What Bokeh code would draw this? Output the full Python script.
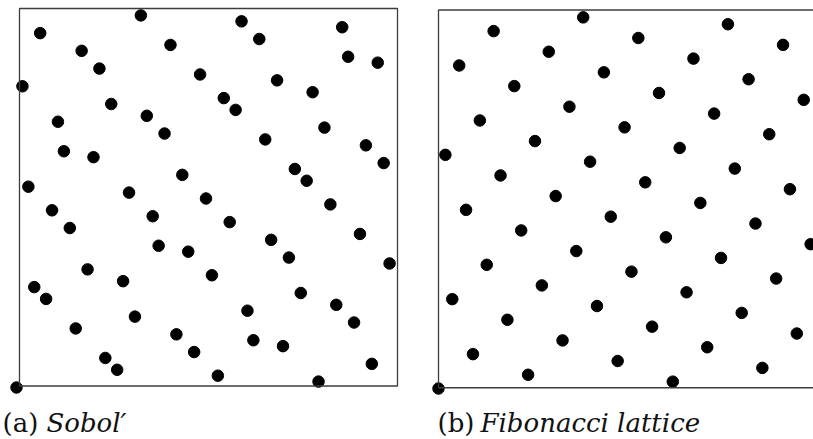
from bokeh.plotting import figure
from bokeh.layouts import row
from bokeh.models import Range1d, BoxAnnotation, Label
from bokeh.embed import file_html
from bokeh.resources import INLINE

# Sobol' points (first 64), coordinates in units of 1/64
sobol_x = [21, 4, 26, 11, 14, 31, 1, 16, 22, 7, 25, 8, 13, 28, 2, 19, 32, 38, 55, 41, 56, 61,
           44, 50, 35, 37, 52, 42, 59, 62, 47, 49, 53, 6, 23, 9, 24, 29, 12, 33, 3, 18, 5, 20,
           10, 27, 30, 15, 17, 0, 36, 58, 43, 46, 63, 48, 39, 54, 57, 40, 45, 60, 34, 51]
sobol_y = [63, 60, 58, 57, 54, 53, 51, 48, 46, 45, 43, 40, 39, 36, 34, 33, 32, 62, 61, 59, 56, 55,
           52, 50, 49, 47, 44, 42, 41, 38, 37, 35, 31, 30, 29, 27, 24, 23, 20, 19, 17, 18, 15, 12,
           10, 9, 6, 5, 3, 0, 28, 26, 25, 22, 21, 16, 13, 14, 11, 8, 7, 4, 2, 1]
sobol_den = 64

# Fibonacci lattice (55 points), coordinates in units of 1/55
fib_x = [0, 1, 2, 3, 4, 5, 6, 7, 8, 9, 10, 11, 12, 13, 14, 15, 16, 17, 18, 19, 20, 21, 22, 23,
         24, 25, 26, 27, 28, 29, 30, 31, 32, 33, 34, 35, 36, 37, 38, 39, 40, 41, 42, 43, 44, 45,
         46, 47, 48, 49, 50, 51, 52, 53, 54]
fib_y = [0, 34, 13, 47, 26, 5, 39, 18, 52, 31, 10, 44, 23, 2, 36, 15, 49, 28, 7, 41, 20, 54, 33,
         12, 46, 25, 4, 38, 17, 51, 30, 9, 43, 22, 1, 35, 14, 48, 27, 6, 40, 19, 53, 32, 11, 45,
         24, 3, 37, 16, 50, 29, 8, 42, 21]
fib_den = 55

labels_tag = ["(a)", "(b)"]
labels_name = ["Sobol\u2032", "Fibonacci lattice"]

FONT = "DejaVu Serif"
FS = "26px"
H = 439


def make_panel(xs, ys, width, xr, yr, box, tag, name, tag_x, name_x):
    p = figure(width=width, height=H, x_range=Range1d(*xr), y_range=Range1d(*yr),
               output_backend="svg", toolbar_location=None, min_border=0,
               outline_line_color=None, background_fill_color="white",
               border_fill_color="white")
    p.axis.visible = False
    p.grid.visible = False
    p.add_layout(BoxAnnotation(left=box[0], right=box[1], bottom=box[2], top=box[3],
                               fill_alpha=0, line_color="#3c3c3c", line_alpha=1.0,
                               line_width=1.3))
    p.scatter(xs, ys, size=11.5, color="black", marker="circle")
    p.add_layout(Label(x=tag_x, y=17, x_units="screen", y_units="screen", text=tag,
                       text_font=FONT, text_font_size=FS, text_color="#111111",
                       text_baseline="alphabetic"))
    p.add_layout(Label(x=name_x, y=17, x_units="screen", y_units="screen", text=name,
                       text_font=FONT, text_font_size=FS, text_font_style="italic",
                       text_color="#111111", text_baseline="alphabetic"))
    return p


sx = [v / sobol_den for v in sobol_x]
sy = [v / sobol_den for v in sobol_y]
fx = [v / fib_den for v in fib_x]
fy = [v / fib_den for v in fib_y]

left = make_panel(sx, sy, 420, (-0.04222, 1.06596), (-0.13757, 1.02381),
                  (0.0079, 1.0053, 0.004, 1.00265), labels_tag[0], labels_name[0], 2, 46)
right = make_panel(fx, fy, 393, (-0.0475, 0.98945), (-0.13492, 1.02646),
                   (0.0, 1.0, 0.002, 1.0013), labels_tag[1], labels_name[1], 17, 60)

layout = row(left, right, spacing=0)
open("out.html", "w").write(file_html(layout, INLINE))
